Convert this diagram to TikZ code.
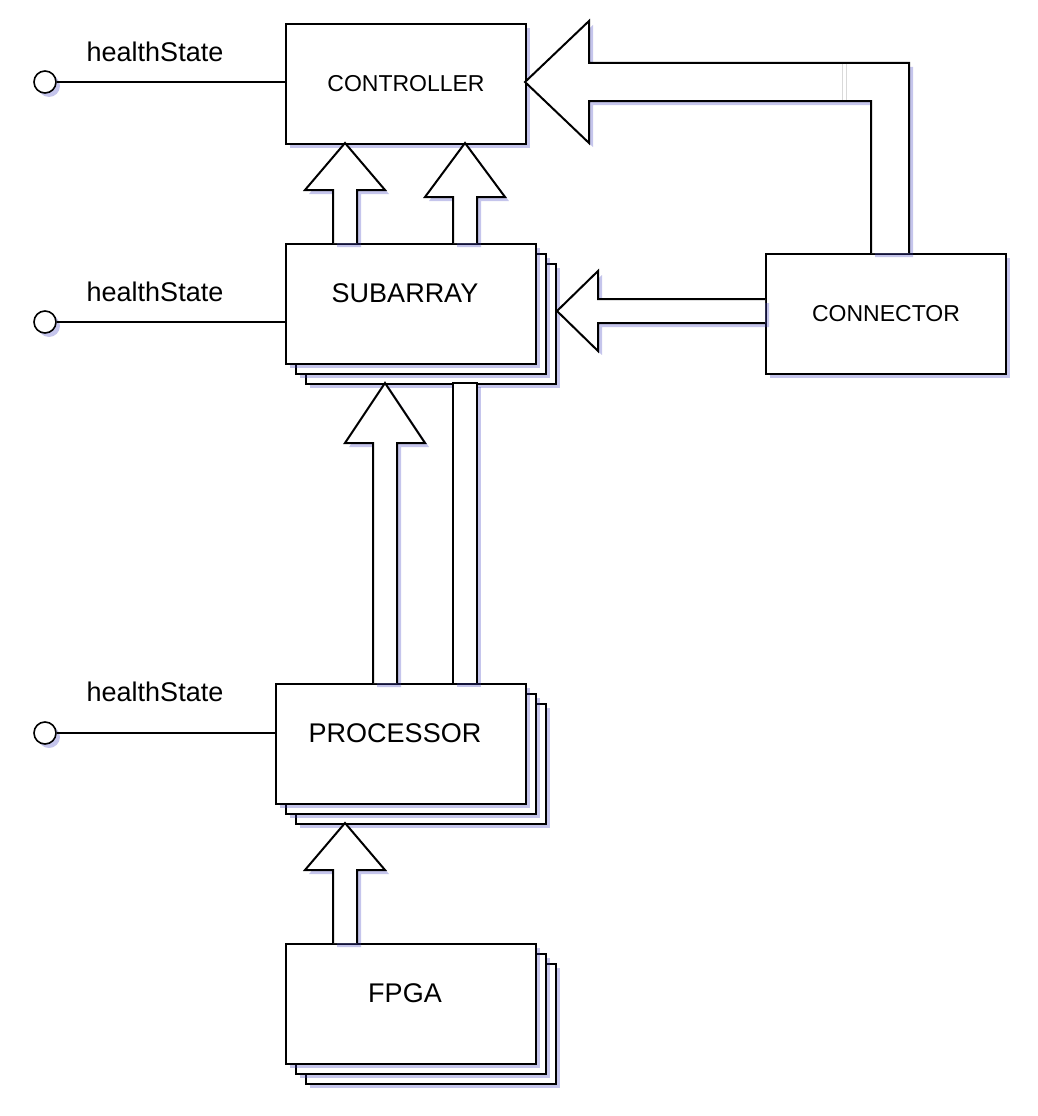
\documentclass[tikz,border=0pt]{standalone}
\usepackage{fontspec}
\setmainfont{Liberation Sans}
\usetikzlibrary{shadows}
\begin{document}
\begin{tikzpicture}[x=1pt,y=-1pt,line width=2pt,
  shd/.style={drop shadow={shadow xshift=4pt,shadow yshift=-4pt,fill=blue!50!gray,opacity=0.3}},
  box/.style={draw,fill=white,shd,minimum width=240pt,minimum height=120pt,inner sep=0pt,anchor=north west},
  sbox/.style={draw,fill=white,shd,minimum width=250pt,minimum height=120pt,inner sep=0pt,anchor=north west},
  barrow/.style={draw,fill=white,shd,line join=miter},
  lbl/.style={font=\fontsize{27}{30}\selectfont},
  pin/.style={draw,fill=white,circle,minimum size=22pt,inner sep=0pt,shd,line width=1.6pt},
  wire/.style={line width=1.6pt}]
\useasboundingbox (0,0) rectangle (1038,1116);
% boxes
\node[box,font=\fontsize{23}{26}\selectfont] (ctrl) at (285,23) {CONTROLLER};
\node[box,font=\fontsize{23}{26}\selectfont] (conn) at (765,253) {CONNECTOR};
\node[sbox] (sub3) at (305,263) {};
\node[sbox] (sub2) at (295,253) {};
\node[sbox] (sub) at (285,243) {};
\node[lbl] at (405,293) {SUBARRAY};
\node[sbox] (proc3) at (295,703) {};
\node[sbox] (proc2) at (285,693) {};
\node[sbox] (proc) at (275,683) {};
\node[lbl] at (395,733) {PROCESSOR};
\node[sbox] (fpga3) at (305,963) {};
\node[sbox] (fpga2) at (295,953) {};
\node[sbox] (fpga) at (285,943) {};
\node[lbl] at (405,993) {FPGA};
% block arrows
\draw[barrow] (333,243) -- (333,190) -- (305,190) -- (345,143) -- (385,190) -- (357,190) -- (357,243);
\draw[barrow] (453,243) -- (453,197) -- (425,197) -- (465,143) -- (505,197) -- (477,197) -- (477,243);
\draw[barrow] (373,683) -- (373,443) -- (345,443) -- (385,383) -- (425,443) -- (397,443) -- (397,683);
\draw[barrow] (453,683) -- (453,383) -- (477,383) -- (477,683);
\draw[barrow] (333,943) -- (333,870) -- (305,870) -- (345,823) -- (385,870) -- (357,870) -- (357,943);
\draw[barrow] (765,299) -- (598,299) -- (598,271) -- (557,311) -- (598,351) -- (598,323) -- (765,323);
\draw[barrow] (871,253) -- (871,101) -- (589,101) -- (589,143) -- (525,82) -- (589,21) -- (589,63) -- (909,63) -- (909,253);
\draw[gray!30,line width=0.8pt] (842,64) -- (842,100) (846,64) -- (846,100);
% health state pins
\foreach \y/\ly [count=\i] in {82/52, 322/292, 733/692}{
  \node[pin] (p\i) at (45,\y) {};
  \node[lbl] at (155,\ly) {healthState};
}
\draw[wire] (p1) -- (p1 -| ctrl.west);
\draw[wire] (p2) -- (p2 -| sub.west);
\draw[wire] (p3) -- (p3 -| proc.west);
\end{tikzpicture}
\end{document}
